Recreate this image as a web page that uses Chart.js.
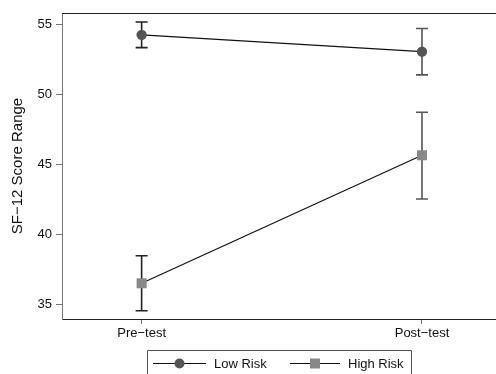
<!DOCTYPE html>
<html>
<head>
<meta charset="utf-8">
<script src="https://cdn.jsdelivr.net/npm/chart.js@4/dist/chart.umd.min.js"></script>
<style>
  html, body { margin: 0; padding: 0; background: #fff; }
  #wrap { width: 496px; height: 374px; position: relative; }
</style>
</head>
<body>
<div id="wrap"><canvas id="chart" width="496" height="374"></canvas></div>
<script>
// data
const categories = ["Pre\u2212test", "Post\u2212test"]
const lowRisk = [54.24, 53.04]
const lowRiskLow = [53.33, 51.38]
const lowRiskHigh = [55.16, 54.69]
const highRisk = [36.5, 45.64]
const highRiskLow = [34.54, 42.52]
const highRiskHigh = [38.47, 48.71]
const yTicks = [35, 40, 45, 50, 55]

const FONT = "'Liberation Sans', Arial, Helvetica, sans-serif"

const toPoints = (vals) => vals.map((v, i) => ({ x: i, y: v }))

// error bars, drawn through the scales
const errorBars = {
  id: "errorBars",
  afterDatasetsDraw(chart) {
    const { ctx, scales: { x, y } } = chart
    const sets = [
      { lo: lowRiskLow, hi: lowRiskHigh },
      { lo: highRiskLow, hi: highRiskHigh }
    ]
    const colors = ["#222", "#555"]
    ctx.save()
    ctx.lineWidth = 1.6
    sets.forEach(s => {
      s.lo.forEach((lo, i) => {
        const px = x.getPixelForValue(i)
        const top = y.getPixelForValue(s.hi[i])
        const bot = y.getPixelForValue(lo)
        ctx.strokeStyle = colors[i]
        ctx.beginPath()
        ctx.moveTo(px, top); ctx.lineTo(px, bot)
        ctx.moveTo(px - 6, top); ctx.lineTo(px + 6, top)
        ctx.moveTo(px - 6, bot); ctx.lineTo(px + 6, bot)
        ctx.stroke()
      })
    })
    ctx.restore()
  },
  // redraw markers on top of the bars
  afterDraw(chart) {
    const { ctx } = chart
    chart.data.datasets.forEach((ds, di) => {
      const meta = chart.getDatasetMeta(di)
      meta.data.forEach(pt => {
        ctx.save()
        ctx.fillStyle = ds.pointBackgroundColor
        if (ds.pointStyle === "rect") {
          ctx.fillRect(pt.x - 5, pt.y - 5, 10, 10)
        } else {
          ctx.beginPath()
          ctx.arc(pt.x, pt.y, 5.2, 0, Math.PI * 2)
          ctx.fill()
        }
        ctx.restore()
      })
    })
  }
}

// top frame line and legend box
const frameAndLegend = {
  id: "frameAndLegend",
  afterDraw(chart) {
    const { ctx, chartArea } = chart
    ctx.save()
    ctx.strokeStyle = "#222"
    ctx.lineWidth = 1
    ctx.beginPath()
    ctx.moveTo(chartArea.left, chartArea.top + 0.5)
    ctx.lineTo(chartArea.right, chartArea.top + 0.5)
    ctx.stroke()

    // legend box (runs off the bottom edge)
    ctx.strokeStyle = "#555"
    ctx.beginPath()
    ctx.moveTo(147.5, 380)
    ctx.lineTo(147.5, 350.5)
    ctx.lineTo(411.5, 350.5)
    ctx.lineTo(411.5, 380)
    ctx.stroke()

    const items = [
      { label: "Low Risk", color: "#555", style: "circle", x0: 153, x1: 206, tx: 214 },
      { label: "High Risk", color: "#888", style: "rect", x0: 290, x1: 340, tx: 348 }
    ]
    const ly = 363
    items.forEach(it => {
      ctx.strokeStyle = "#111"
      ctx.lineWidth = 1
      ctx.beginPath()
      ctx.moveTo(it.x0, ly + 0.5)
      ctx.lineTo(it.x1, ly + 0.5)
      ctx.stroke()
      const cx = (it.x0 + it.x1) / 2
      ctx.fillStyle = it.color
      if (it.style === "rect") {
        ctx.fillRect(cx - 5, ly - 4.5, 10, 10)
      } else {
        ctx.beginPath()
        ctx.arc(cx, ly + 0.5, 5, 0, Math.PI * 2)
        ctx.fill()
      }
      ctx.fillStyle = "#111"
      ctx.font = "13px " + FONT
      ctx.textBaseline = "middle"
      ctx.textAlign = "left"
      ctx.fillText(it.label, it.tx, ly + 1)
    })
    ctx.restore()
  }
}

new Chart(document.getElementById("chart"), {
  type: "line",
  data: {
    datasets: [
      {
        label: "Low Risk",
        data: toPoints(lowRisk),
        borderColor: "#111",
        borderWidth: 1.2,
        pointStyle: "circle",
        pointRadius: 0,
        pointBackgroundColor: "#555"
      },
      {
        label: "High Risk",
        data: toPoints(highRisk),
        borderColor: "#111",
        borderWidth: 1.2,
        pointStyle: "rect",
        pointRadius: 0,
        pointBackgroundColor: "#888"
      }
    ]
  },
  options: {
    responsive: false,
    animation: false,
    layout: { padding: { top: 13, right: 0, bottom: 0, left: 0 } },
    plugins: {
      legend: { display: false },
      tooltip: { enabled: false }
    },
    scales: {
      x: {
        type: "linear",
        min: -0.284,
        max: 1.264,
        afterBuildTicks: (scale) => { scale.ticks = categories.map((c, i) => ({ value: i })) },
        afterFit: (scale) => { scale.height = 55 },
        ticks: {
          callback: (v) => categories[v],
          color: "#111",
          font: { family: FONT, size: 13 },
          padding: 2,
          maxRotation: 0
        },
        grid: {
          drawOnChartArea: false,
          drawTicks: true,
          tickLength: 5,
          color: "#777"
        },
        border: { color: "#222", width: 1 }
      },
      y: {
        min: 33.95,
        max: 55.8,
        afterBuildTicks: (scale) => { scale.ticks = yTicks.map(v => ({ value: v })) },
        afterFit: (scale) => { scale.width = 62 },
        ticks: {
          color: "#111",
          font: { family: FONT, size: 13 },
          padding: 4
        },
        grid: {
          drawOnChartArea: false,
          drawTicks: true,
          tickLength: 6,
          color: "#777"
        },
        border: { color: "#777", width: 1 },
        title: {
          display: true,
          text: "SF\u221212 Score Range",
          color: "#111",
          font: { family: FONT, size: 15 },
          padding: { top: 9, bottom: 0 }
        }
      }
    }
  },
  plugins: [errorBars, frameAndLegend]
})
</script>
</body>
</html>
